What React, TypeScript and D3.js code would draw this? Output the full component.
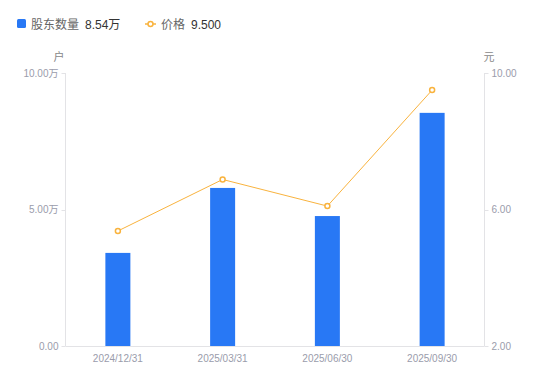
import React from "react";
import * as d3 from "d3";

const categories = ["2024/12/31", "2025/03/31", "2025/06/30", "2025/09/30"];
const holders = [3.41, 5.79, 4.76, 8.54]; // 万户
const prices = [5.37, 6.88, 6.10, 9.5]; // 元
const leftTicks = [0, 5, 10];
const rightTicks = [2, 6, 10];

const W = 550;
const H = 381;
const left = 65.5;
const right = 484.5;
const top = 73;
const bottom = 346;

const FONT = "'Liberation Sans', 'Noto Sans CJK SC', sans-serif";
const TICK = "#9a9cab";
const AXIS = "#e3e3e6";
const BLUE = "#2878f5";
const ORANGE = "#f9b33e";

export default function App() {
  const x = d3.scaleBand<string>().domain(categories).range([left, right]).padding(0);
  const yL = d3.scaleLinear().domain([0, 10]).range([bottom, top]);
  const yR = d3.scaleLinear().domain([2, 10]).range([bottom, top]);
  const barW = 25;
  const cx = (c: string) => (x(c) as number) + x.bandwidth() / 2;
  const line = d3
    .line<number>()
    .x((_, i) => cx(categories[i]))
    .y((d) => yR(d));

  return (
    <svg
      width={W}
      height={H}
      style={{ position: "absolute", left: 0, top: 0, background: "#fff" }}
      fontFamily={FONT}
    >
      {/* legend */}
      <rect x={17} y={19} width={9} height={9} rx={1.5} fill={BLUE} />
      <text x={31} y={28.5} fontSize={12} fill="#666">股东数量</text>
      <text x={85} y={28.5} fontSize={12} fill="#333">8.54万</text>
      <line x1={145} x2={156} y1={24} y2={24} stroke={ORANGE} strokeWidth={1.5} />
      <circle cx={150.5} cy={24} r={2.5} fill="#fff" stroke={ORANGE} strokeWidth={1.5} />
      <text x={161} y={28.5} fontSize={12} fill="#666">价格</text>
      <text x={191} y={28.5} fontSize={12} fill="#333">9.500</text>

      {/* axis units */}
      <text x={59} y={61} fontSize={11} fill="#888" textAnchor="middle">户</text>
      <text x={489} y={61} fontSize={11} fill="#888" textAnchor="middle">元</text>

      {/* axes */}
      <line x1={left} x2={left} y1={top} y2={bottom} stroke={AXIS} />
      <line x1={right} x2={right} y1={top} y2={bottom} stroke={AXIS} />
      <line x1={left} x2={right} y1={bottom + 0.5} y2={bottom + 0.5} stroke={AXIS} />

      {leftTicks.map((t) => (
        <g key={"l" + t}>
          <line x1={left - 4} x2={left} y1={Math.round(yL(t)) + 0.5} y2={Math.round(yL(t)) + 0.5} stroke={AXIS} />
          <text x={left - 7} y={yL(t) + 3.5} fontSize={10} fill={TICK} textAnchor="end">
            {t === 0 ? "0.00" : t.toFixed(2) + "万"}
          </text>
        </g>
      ))}
      {rightTicks.map((t) => (
        <g key={"r" + t}>
          <line x1={right} x2={right + 4} y1={Math.round(yR(t)) + 0.5} y2={Math.round(yR(t)) + 0.5} stroke={AXIS} />
          <text x={right + 7} y={yR(t) + 3.5} fontSize={10} fill={TICK} textAnchor="start">
            {t.toFixed(2)}
          </text>
        </g>
      ))}

      {categories.map((c) => (
        <text key={"x" + c} x={cx(c)} y={362} fontSize={10} fill={TICK} textAnchor="middle">
          {c}
        </text>
      ))}

      {/* bars */}
      {holders.map((v, i) => (
        <rect
          key={"b" + i}
          x={cx(categories[i]) - barW / 2}
          y={yL(v)}
          width={barW}
          height={bottom - yL(v)}
          fill={BLUE}
        />
      ))}

      {/* price line */}
      <path d={line(prices) || ""} fill="none" stroke={ORANGE} strokeWidth={1} />
      {prices.map((v, i) => (
        <circle key={"p" + i} cx={cx(categories[i])} cy={yR(v)} r={2.5} fill="#fff" stroke={ORANGE} strokeWidth={1.5} />
      ))}
    </svg>
  );
}
